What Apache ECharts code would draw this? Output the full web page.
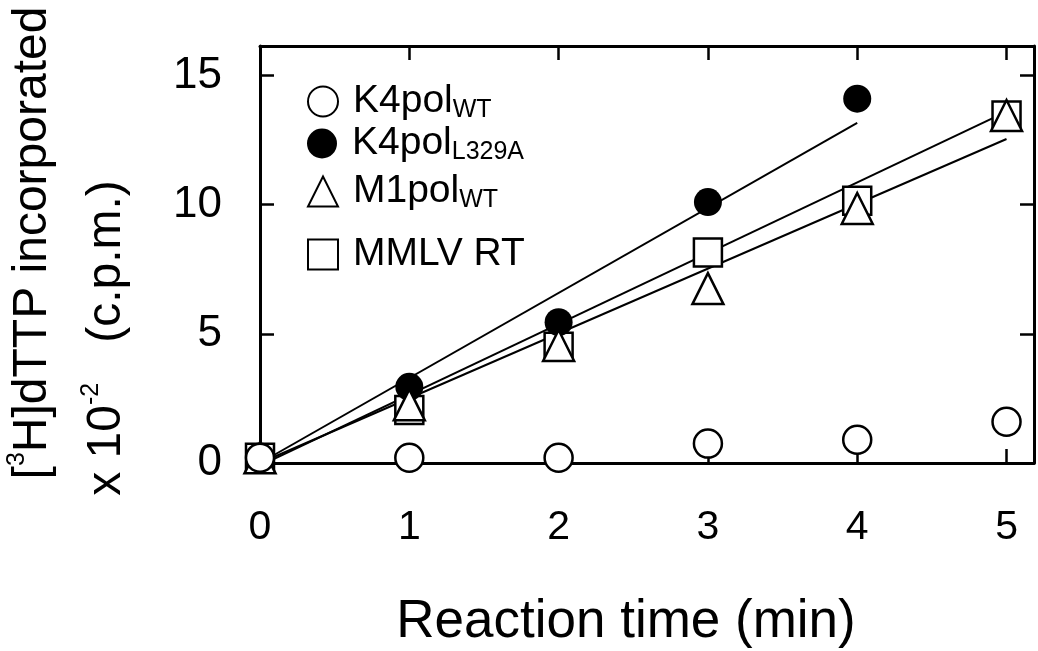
<!DOCTYPE html>
<html><head><meta charset="utf-8">
<script src="https://cdn.jsdelivr.net/npm/echarts@6/dist/echarts.min.js"></script>
<style>html,body{margin:0;padding:0;background:#fff}#c{width:1038px;height:651px}</style>
</head><body><div id="c"></div>
<script>
// ---- data ----
const times = [0, 1, 2, 3, 4, 5];
const timesL329A = [0, 1, 2, 3, 4];
const k4polWT = [0.2, 0.2, 0.2, 0.75, 0.9, 1.6];
const k4polL329A = [0.2, 2.95, 5.45, 10.1, 14.1];
const m1polWT = [0.2, 2.25, 4.55, 6.75, 9.85, 13.45];
const mmlvRT = [0.2, 2.05, 4.5, 8.15, 10.15, 13.45];
// fitted regression lines (end points)
const fitX_L329A = [0, 4];
const fitY_L329A = [0, 13.16];
const fitX_M1 = [0, 5];
const fitY_M1 = [0, 12.54];
const fitX_MMLV = [0, 5];
const fitY_MMLV = [-0.1, 13.6];
// ticks
const xTicks = [0, 1, 2, 3, 4, 5];
const yTicks = [0, 5, 10, 15];

const FONT = 'Liberation Sans, Arial, sans-serif';
const pair = (xs, ys) => xs.map((x, i) => [x, ys[i]]);

const legendLabels = {
  'K4pol WT': '{m|K4pol}{s|WT}',
  'K4pol L329A': '{m|K4pol}{s|L329A}',
  'M1pol WT': '{m|M1pol}{s|WT}',
  'MMLV RT': '{m|MMLV RT}'
};
const legendRich = {
  m: { fontSize: 39, fontFamily: FONT, color: '#000', lineHeight: 42 },
  s: { fontSize: 25, fontFamily: FONT, color: '#000', lineHeight: 28, verticalAlign: 'bottom' }
};
function mkLegend(name, top) {
  return {
    data: [name], left: 307, top: top, padding: 0,
    itemWidth: 30, itemHeight: 30, selectedMode: false,
    formatter: n => legendLabels[n],
    textStyle: { rich: legendRich, padding: [0, 0, 0, 10] }
  };
}

const markerStyle = { color: '#fff', borderColor: '#000', borderWidth: 2.5, opacity: 1 };
const lineSeries = (xs, ys) => ({
  type: 'line', data: pair(xs, ys), symbol: 'none', silent: true,
  lineStyle: { color: '#000', width: 2 }, z: 1
});

const axisCommonX = {
  type: 'value', min: xTicks[0], max: 5.184, interval: xTicks[1] - xTicks[0],
  splitLine: { show: false },
  axisLine: { onZero: false, lineStyle: { color: '#000', width: 3 } },
  axisTick: { inside: true, length: 14, lineStyle: { color: '#000', width: 2.5 } }
};
const axisCommonY = {
  type: 'value', min: yTicks[0], max: 16.14, interval: yTicks[1] - yTicks[0],
  splitLine: { show: false },
  axisLine: { onZero: false, lineStyle: { color: '#000', width: 3 } },
  axisTick: { inside: true, length: 14, lineStyle: { color: '#000', width: 2.5 } }
};

const chart = echarts.init(document.getElementById('c'), null, { renderer: 'canvas' });
chart.setOption({
  animation: false,
  backgroundColor: '#fff',
  grid: { left: 260, top: 46, right: 4, bottom: 188 },
  xAxis: [
    Object.assign({}, axisCommonX, { position: 'bottom',
      axisLabel: { fontSize: 41, fontFamily: FONT, color: '#000', margin: 44, showMaxLabel: false } }),
    Object.assign({}, axisCommonX, { position: 'top', axisLabel: { show: false } })
  ],
  yAxis: [
    Object.assign({}, axisCommonY, { position: 'left',
      axisLabel: { fontSize: 44, fontFamily: FONT, color: '#000', margin: 38, showMaxLabel: false } }),
    Object.assign({}, axisCommonY, { position: 'right', axisLabel: { show: false } })
  ],
  legend: [
    mkLegend('K4pol WT', 82),
    mkLegend('K4pol L329A', 124),
    mkLegend('M1pol WT', 172),
    mkLegend('MMLV RT', 235)
  ],
  series: [
    lineSeries(fitX_L329A, fitY_L329A),
    lineSeries(fitX_MMLV, fitY_MMLV),
    lineSeries(fitX_M1, fitY_M1),
    { name: 'MMLV RT', type: 'scatter', symbol: 'rect', symbolSize: 28,
      data: pair(times, mmlvRT), itemStyle: markerStyle, z: 2 },
    { name: 'K4pol L329A', type: 'scatter', symbol: 'circle', symbolSize: 28,
      data: pair(timesL329A, k4polL329A), itemStyle: { color: '#000', borderColor: '#000', borderWidth: 0, opacity: 1 }, z: 3 },
    { name: 'M1pol WT', type: 'scatter', symbol: 'triangle', symbolSize: 31,
      data: pair(times, m1polWT), itemStyle: markerStyle, z: 4 },
    { name: 'K4pol WT', type: 'scatter', symbol: 'circle', symbolSize: 28,
      data: pair(times, k4polWT), itemStyle: markerStyle, z: 5 }
  ],
  graphic: [
    { type: 'text', x: 626, y: 622, z: 10,
      style: { text: 'Reaction time (min)', fontSize: 53, fontFamily: FONT, fill: '#000',
        align: 'center', verticalAlign: 'middle' } },
    { type: 'text', x: 33, y: 243, rotation: Math.PI / 2, z: 10,
      style: { text: '{r|[}{s|3}{r|H]dTTP incorporated}', align: 'center', verticalAlign: 'middle',
        rich: { r: { fontSize: 48, fontFamily: FONT, fill: '#000', lineHeight: 56 },
                s: { fontSize: 25, fontFamily: FONT, fill: '#000', lineHeight: 22, verticalAlign: 'top' } } } },
    { type: 'text', x: 107, y: 338, rotation: Math.PI / 2, z: 10,
      style: { text: '{r|x 10}{s|-2}{r|   (c.p.m.)}', align: 'center', verticalAlign: 'middle',
        rich: { r: { fontSize: 48, fontFamily: FONT, fill: '#000', lineHeight: 56 },
                s: { fontSize: 25, fontFamily: FONT, fill: '#000', lineHeight: 22, verticalAlign: 'top' } } } }
  ]
});
</script></body></html>
